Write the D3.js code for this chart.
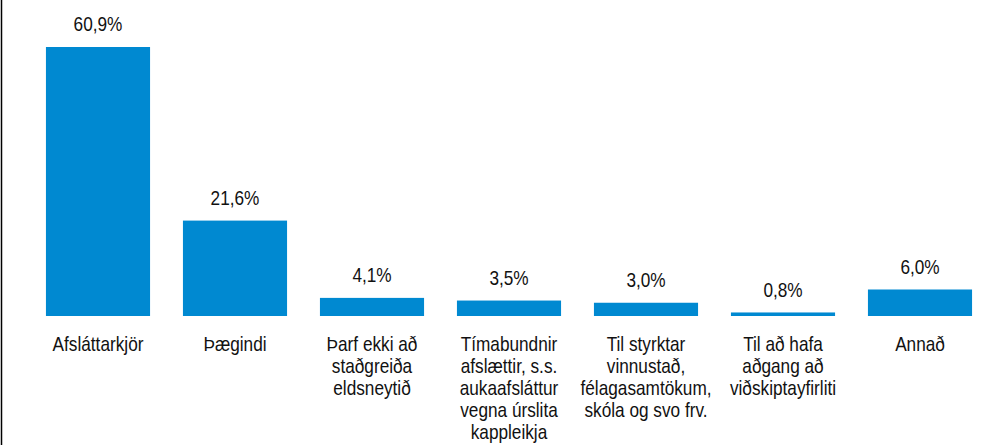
<!DOCTYPE html>
<html>
<head>
<meta charset="utf-8">
<script src="https://cdn.jsdelivr.net/npm/d3@7"></script>
<style>
  html, body { margin: 0; padding: 0; background: #fff; }
  svg { display: block; }
  text { font-family: "Liberation Sans", Arial, sans-serif; fill: #111; }
</style>
</head>
<body>
<script>
var categories = [
  'Afsláttarkjör',
  'Þægindi',
  'Þarf ekki að\nstaðgreiða\neldsneytið',
  'Tímabundnir\nafslættir, s.s.\naukaafsláttur\nvegna úrslita\nkappleikja',
  'Til styrktar\nvinnustað,\nfélagasamtökum,\nskóla og svo frv.',
  'Til að hafa\naðgang að\nviðskiptayfirliti',
  'Annað'
]
var values = [60.9, 21.6, 4.1, 3.5, 3.0, 0.8, 6.0]

var W = 987
  , H = 445
  , baseY = 316
  , topY = 47
  , narrow = 0.82   // no narrow font installed, squeeze the sans instead

var svg = d3.select('body')
  .append('svg')
  .attr('width', W)
  .attr('height', H)

var x = d3.scaleBand()
  .domain(categories)
  .range([29.5, 988.5])
  .paddingInner(0.24)
  .paddingOuter(0.12)

var y = d3.scaleLinear()
  .domain([0, d3.max(values)])
  .range([baseY, topY])

var fmt = function(v) { return d3.format('.1f')(v).replace('.', ',') + '%' }
var cx = function(c) { return x(c) + x.bandwidth() / 2 }

// left border
svg.append('line')
  .attr('x1', 1.5).attr('x2', 1.5)
  .attr('y1', 0).attr('y2', H)
  .attr('stroke', '#000')
  .attr('stroke-width', 1.5)

svg.selectAll('rect.bar').data(values).enter()
  .append('rect')
  .attr('class', 'bar')
  .attr('x', function(d, i) { return x(categories[i]) })
  .attr('y', function(d) { return y(d) })
  .attr('width', x.bandwidth())
  .attr('height', function(d) { return baseY - y(d) })
  .attr('fill', '#0089d1')

svg.selectAll('text.val').data(values).enter()
  .append('text')
  .attr('class', 'val')
  .attr('text-anchor', 'middle')
  .attr('font-size', 21)
  .attr('transform', function(d, i) {
    return 'translate(' + cx(categories[i]) + ',' + (y(d) - 15.7) + ') scale(' + narrow + ',1)'
  })
  .text(fmt)

var cat = svg.selectAll('text.cat').data(categories).enter()
  .append('text')
  .attr('class', 'cat')
  .attr('text-anchor', 'middle')
  .attr('font-size', 21)
  .attr('transform', function(d) {
    return 'translate(' + cx(d) + ',' + (baseY + 34.5) + ') scale(' + narrow + ',1)'
  })

cat.selectAll('tspan')
  .data(function(d) { return d.split('\n') })
  .enter()
  .append('tspan')
  .attr('x', 0)
  .attr('y', function(d, i) { return i * 22.2 })
  .text(function(d) { return d })
</script>
</body>
</html>
